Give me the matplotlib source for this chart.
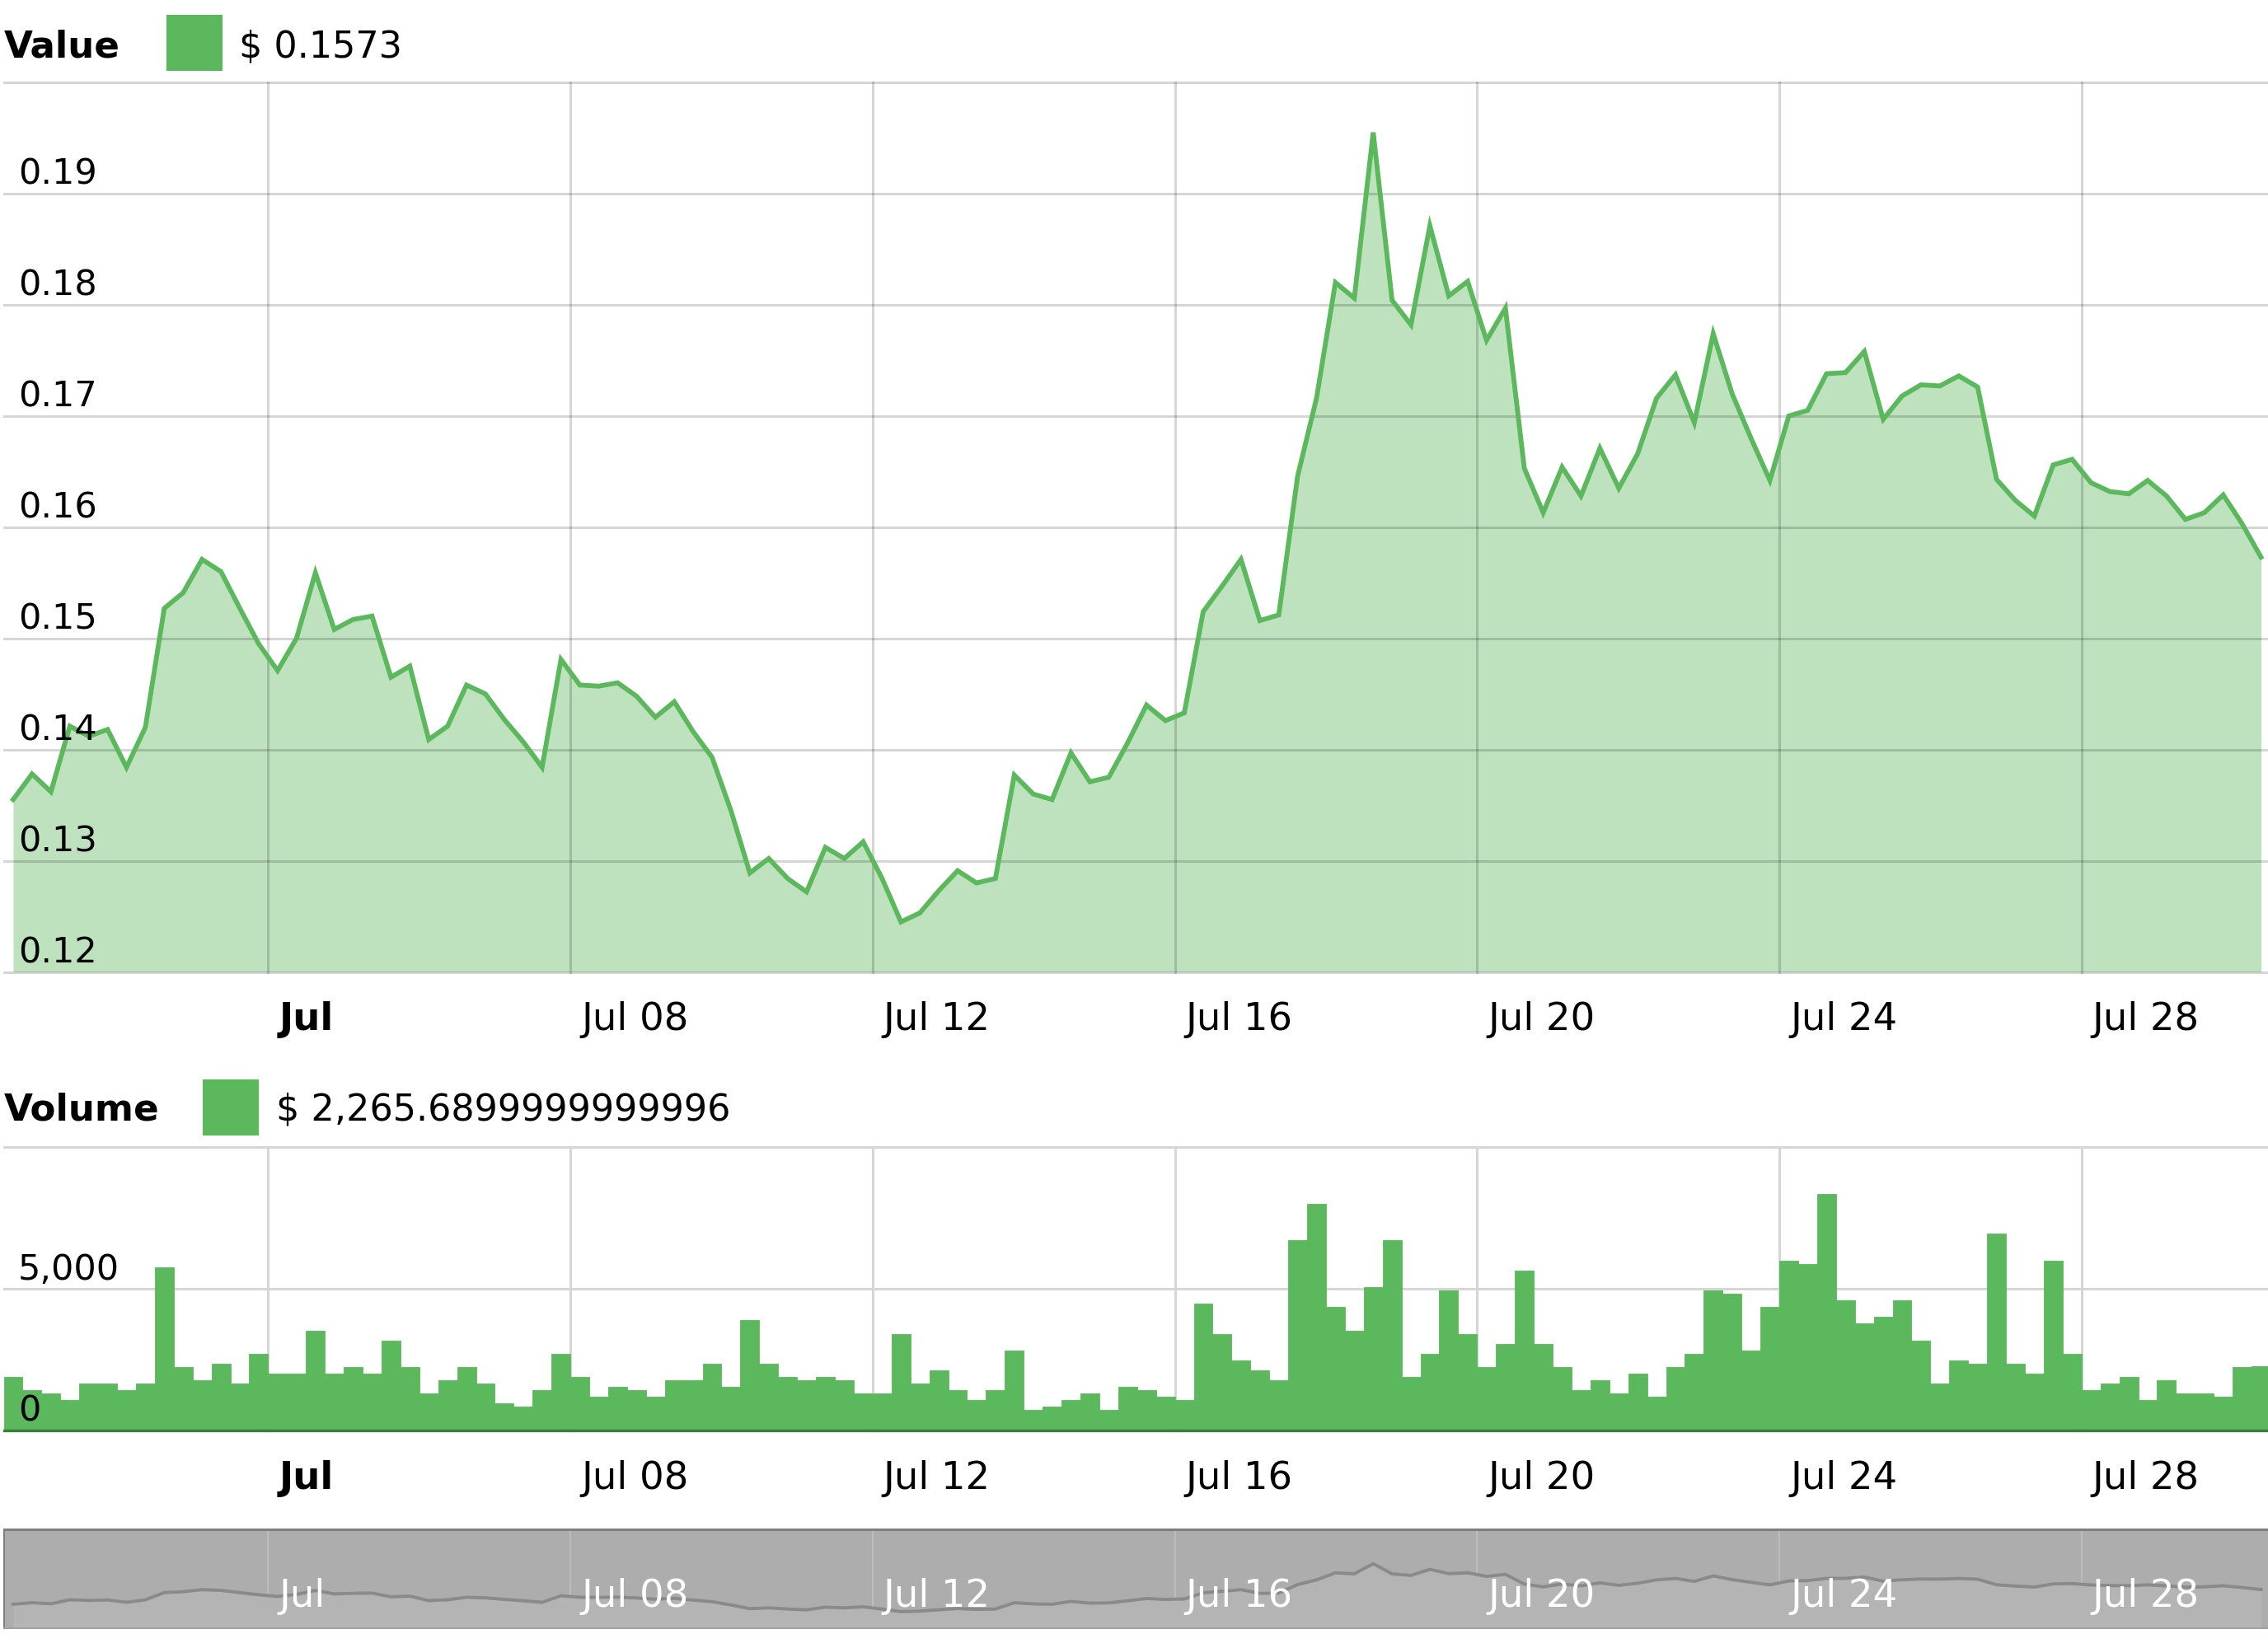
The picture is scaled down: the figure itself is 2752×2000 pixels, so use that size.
#!/usr/bin/env python3
import pandas as pd
import matplotlib
matplotlib.use("Agg")
import matplotlib.pyplot as plt
import matplotlib.dates as mdates
from matplotlib.patches import Rectangle
from matplotlib.transforms import offset_copy

# -------------------------------------------------------------------
# Data (one sample every 6 hours)
# -------------------------------------------------------------------
price = [
    0.1355, 0.1378, 0.1362, 0.1421, 0.1412, 0.1418, 0.1384, 0.1420, 0.1527, 0.1541,
    0.1571, 0.1560, 0.1527, 0.1495, 0.1471, 0.1500, 0.1559, 0.1508, 0.1517, 0.1520,
    0.1465, 0.1475, 0.1409, 0.1421, 0.1458, 0.1450, 0.1427, 0.1407, 0.1384, 0.1481,
    0.1458, 0.1457, 0.1460, 0.1448, 0.1429, 0.1443, 0.1416, 0.1393, 0.1345, 0.1289,
    0.1302, 0.1284, 0.1272, 0.1312, 0.1302, 0.1317, 0.1284, 0.1245, 0.1253, 0.1273,
    0.1291, 0.1280, 0.1284, 0.1377, 0.1360, 0.1355, 0.1397, 0.1371, 0.1375, 0.1406,
    0.1440, 0.1426, 0.1433, 0.1524, 0.1547, 0.1571, 0.1516, 0.1521, 0.1646, 0.1716,
    0.1820, 0.1806, 0.1955, 0.1804, 0.1782, 0.1871, 0.1808, 0.1821, 0.1768, 0.1797,
    0.1653, 0.1613, 0.1654, 0.1628, 0.1671, 0.1635, 0.1666, 0.1716, 0.1737, 0.1694,
    0.1774, 0.1720, 0.1680, 0.1642, 0.1700, 0.1705, 0.1738, 0.1739, 0.1758, 0.1697,
    0.1718, 0.1728, 0.1727, 0.1736, 0.1726, 0.1643, 0.1624, 0.1610, 0.1656, 0.1661,
    0.1640, 0.1632, 0.1630, 0.1642, 0.1628, 0.1607, 0.1613, 0.1629, 0.1603, 0.1573,
]

volume = [
    1879, 1409, 1292, 1057, 1644, 1644, 1409, 1644, 5754, 2231,
    1761, 2348, 1644, 2700, 1996, 1996, 3523, 1996, 2231, 1996,
    3170, 2231, 1292, 1761, 2231, 1644, 939, 822, 1409, 2700,
    1879, 1174, 1526, 1409, 1174, 1761, 1761, 2348, 1526, 3875,
    2348, 1879, 1761, 1879, 1761, 1292, 1292, 3405, 1644, 2114,
    1409, 1057, 1409, 2818, 705, 822, 1057, 1292, 705, 1526,
    1409, 1174, 1057, 4462, 3405, 2466, 2114, 1761, 6693, 7985,
    4344, 3523, 5049, 6693, 1879, 2700, 4932, 3405, 2231, 3053,
    5636, 3053, 2231, 1409, 1761, 1292, 1996, 1174, 2231, 2700,
    4932, 4814, 2818, 4344, 5988, 5871, 8337, 4579, 3757, 3992,
    4579, 3170, 1644, 2466, 2348, 6928, 2348, 1996, 5988, 2700,
    1409, 1644, 1879, 1057, 1761, 1292, 1292, 1174, 2231, 2266,
]

start = "2023-06-30 15:00"
tick_dates = ["2023-07-04", "2023-07-08", "2023-07-12", "2023-07-16",
              "2023-07-20", "2023-07-24", "2023-07-28"]
tick_labels = ["Jul", "Jul 08", "Jul 12", "Jul 16", "Jul 20", "Jul 24", "Jul 28"]

price_grid = [0.12, 0.13, 0.14, 0.15, 0.16, 0.17, 0.18, 0.19, 0.20]
price_labels = ["0.12", "0.13", "0.14", "0.15", "0.16", "0.17", "0.18", "0.19"]
volume_grid = [0, 5000, 10000]
volume_labels = ["0", "5,000"]

value_text = "$ 0.1573"
volume_text = "$ 2,265.6899999999996"

times = pd.date_range(start, periods=len(price), freq="6h")
ticks = [mdates.date2num(t) for t in pd.to_datetime(tick_dates)]

# -------------------------------------------------------------------
# Figure / layout (pixel based)
# -------------------------------------------------------------------
W, H = 2752, 2000
GREEN = "#5cb85c"
GRID = "#d6d6d6"

plt.rcParams["font.family"] = "DejaVu Sans"
fig = plt.figure(figsize=(W / 100, H / 100), dpi=100)


def box(left, top, right, bottom):
    return [left / W, 1 - bottom / H, (right - left) / W, (bottom - top) / H]


ax1 = fig.add_axes(box(4.5, 100, 2752, 1179.5))
ax2 = fig.add_axes(box(4.5, 1391.7, 2752, 1735.7))
ax3 = fig.add_axes(box(4.5, 1855.5, 2752, 1976))

step = pd.Timedelta(hours=6)
xlim = (times[0] - step * 0.5, times[-1] + step * 0.37)


def base_style(ax, yticks, ylim, grid_color=GRID, grid_alpha=1.0, grid_lw=2.2, below=True):
    ax.set_xlim(*xlim)
    ax.set_ylim(*ylim)
    ax.set_xticks(ticks)
    ax.set_yticks(yticks)
    ax.tick_params(length=0, labelbottom=False, labelleft=False)
    for s in ax.spines.values():
        s.set_visible(False)
    ax.grid(True, color=grid_color, alpha=grid_alpha, lw=grid_lw)
    ax.set_axisbelow(below)
    for gl in ax.get_xgridlines() + ax.get_ygridlines():
        gl.set_clip_on(False)


def x_labels(ax, dy, color="black", bold_first=True):
    tr = offset_copy(ax.get_xaxis_transform(), fig=fig, x=13, y=dy, units="dots")
    for i, (t, lab) in enumerate(zip(ticks, tick_labels)):
        ax.text(t, 0, lab, transform=tr, ha="left", va="baseline",
                fontsize=33.5, color=color,
                fontweight="bold" if (bold_first and i == 0) else "normal")


def y_labels(ax, vals, labels):
    tr = offset_copy(ax.get_yaxis_transform(), fig=fig, x=17.5, y=11, units="dots")
    for v, lab in zip(vals, labels):
        ax.text(0, v, lab, transform=tr, ha="left", va="baseline",
                fontsize=31, zorder=10)


def legend(title, sq_left, sq_top, value, val_left, baseline):
    fig.text(5 / W, 1 - baseline / H, title, fontsize=32.5,
             fontweight="bold", va="baseline")
    fig.add_artist(Rectangle((sq_left / W, 1 - (sq_top + 68) / H), 68 / W, 68 / H,
                             transform=fig.transFigure, color=GREEN, lw=0))
    fig.text(val_left / W, 1 - baseline / H, value, fontsize=32, va="baseline")


# -------------------------------------------------------------------
# Price panel (grid drawn over the area fill, under the line)
# -------------------------------------------------------------------
base_style(ax1, price_grid, (0.12, 0.20), grid_color="black", grid_alpha=0.16, below=False)
ax1.fill_between(times, price, 0.12, color=GREEN, alpha=0.4, lw=0, zorder=2)
ax1.plot(times, price, color=GREEN, lw=4.2, zorder=3, solid_joinstyle="miter")
y_labels(ax1, price_grid[:-1], price_labels)
x_labels(ax1, -71)
legend("Value", 202, 18, value_text, 290, 69)

# -------------------------------------------------------------------
# Volume panel
# -------------------------------------------------------------------
base_style(ax2, volume_grid, (0, 10000))
ax2.bar(times, volume, width=0.25, align="center", color=GREEN,
        edgecolor=GREEN, linewidth=0.6, zorder=2)
ax2.axhline(0, color="#3e7c3e", lw=2.4, clip_on=False, zorder=3)
y_labels(ax2, volume_grid[:-1], volume_labels)
x_labels(ax2, -71)
legend("Volume", 246, 1310, volume_text, 335, 1360)

# -------------------------------------------------------------------
# Range selector strip
# -------------------------------------------------------------------
base_style(ax3, [], (0.100, 0.247), grid_color="#bdbdbd", grid_lw=1.4)
ax3.set_facecolor("#adadad")
ax3.fill_between(times, price, 0.100, color="#b4b4b4", lw=0, zorder=2)
ax3.plot(times, price, color="#8a8a8a", lw=2.8, zorder=3)
ax3.spines["top"].set_visible(True)
ax3.spines["top"].set_color("#7f7f7f")
ax3.spines["top"].set_linewidth(2.2)
ax3.spines["left"].set_visible(True)
ax3.spines["left"].set_color("#7f7f7f")
ax3.spines["left"].set_linewidth(1.5)
ax3.spines["bottom"].set_visible(True)
ax3.spines["bottom"].set_color("#a3a3a3")
ax3.spines["bottom"].set_linewidth(1.5)
x_labels(ax3, 26, color="white", bold_first=False)

fig.savefig("out.png", dpi=100)
print("Saved out.png")
